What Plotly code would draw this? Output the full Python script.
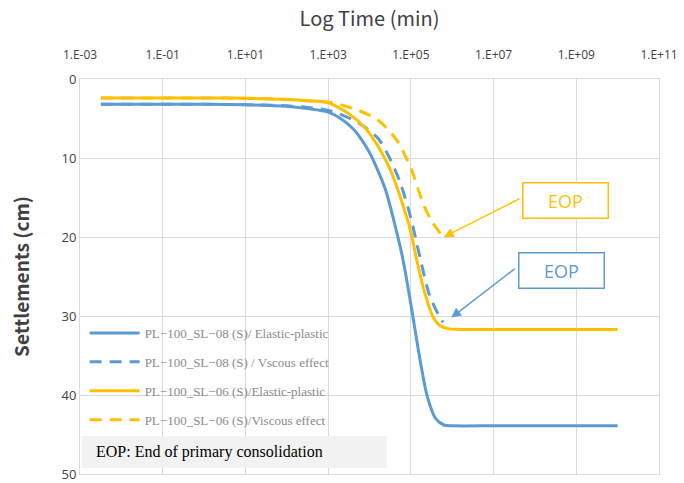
import math
import plotly.graph_objects as go

# Settlement vs. time curves (time in minutes, settlement in cm)
t_sl08_ep = [0.0032, 0.1, 1, 10, 100, 316, 1000, 2000, 4000, 6300, 1.0e4, 1.6e4, 2.5e4,
             4.0e4, 6.3e4, 1.0e5, 1.6e5, 2.5e5, 4.0e5, 6.3e5, 1.0e6, 1e7, 1e8, 1e9, 1e10]
s_sl08_ep = [3.2, 3.2, 3.2, 3.25, 3.45, 3.75, 4.2, 5.0, 6.3, 7.6, 9.3, 11.6, 14.2,
             18.2, 22.6, 28.5, 35.0, 40.2, 43.0, 43.8, 43.9, 43.9, 43.9, 43.9, 43.9]

t_sl08_ve = [0.0032, 0.1, 1, 10, 100, 316, 1260, 5600, 1.6e4, 3.2e4, 5.6e4, 1.0e5,
             1.6e5, 2.8e5, 4.5e5, 6.0e5]
s_sl08_ve = [3.2, 3.2, 3.2, 3.25, 3.4, 3.6, 4.1, 5.6, 7.5, 10.2, 13.2, 17.6,
             22.2, 27.3, 29.7, 30.8]

t_sl06_ep = [0.0032, 0.1, 1, 10, 100, 316, 1000, 3160, 7900, 1.6e4, 3.2e4, 5.6e4, 1.0e5,
             1.4e5, 2.2e5, 3.5e5, 5.0e5, 7.9e5, 1.6e6, 1e7, 1e8, 1e9, 1e10]
s_sl06_ep = [2.4, 2.4, 2.4, 2.45, 2.6, 2.75, 3.0, 4.4, 6.2, 8.5, 11.5, 15.0, 19.4,
             23.0, 27.2, 30.2, 31.2, 31.6, 31.7, 31.7, 31.7, 31.7, 31.7]

t_sl06_ve = [0.0032, 0.1, 1, 10, 100, 316, 1260, 5000, 1.6e4, 4.5e4, 1.0e5, 2.0e5,
             3.2e5, 5.6e5]
s_sl06_ve = [2.4, 2.4, 2.4, 2.45, 2.6, 2.75, 3.0, 3.9, 5.2, 7.7, 11.3, 15.8,
             18.0, 19.8]

series_names = [
    "PL\u2212100_SL\u221208 (S)/ Elastic-plastic",
    "PL\u2212100_SL\u221208 (S) / Vscous effect",
    "PL\u2212100_SL\u221206 (S)/Elastic-plastic",
    "PL\u2212100_SL\u221206 (S)/Viscous effect",
]

x_tickvals = [1e-3, 1e-1, 1e1, 1e3, 1e5, 1e7, 1e9, 1e11]
x_ticktext = ["1.E-03", "1.E-01", "1.E+01", "1.E+03", "1.E+05", "1.E+07", "1.E+09", "1.E+11"]
y_tickvals = [0, 10, 20, 30, 40, 50]

# End-of-primary-consolidation markers: (time, settlement) of arrow tip and label centre
eop_sl06_tip = (6.3e5, 20.0)
eop_sl06_label = (5.6e8, 15.4)
eop_sl08_tip = (9.5e5, 30.2)
eop_sl08_label = (4.4e8, 24.3)

BLUE = "#5B9BD5"
GOLD = "#FFC000"

fig = go.Figure()
traces = [
    (t_sl08_ep, s_sl08_ep, BLUE, "solid"),
    (t_sl08_ve, s_sl08_ve, BLUE, "12px,8px"),
    (t_sl06_ep, s_sl06_ep, GOLD, "solid"),
    (t_sl06_ve, s_sl06_ve, GOLD, "12px,8px"),
]
for i, (t, s, c, d) in enumerate(traces):
    fig.add_trace(go.Scatter(
        x=t, y=s, mode="lines", name=series_names[i], legendgroup=f"g{i}",
        line=dict(color=c, width=3, dash=d, shape="spline", smoothing=0.8),
    ))

fig.update_layout(
    width=684, height=483,
    margin=dict(l=80, r=25, t=79, b=9, autoexpand=False),
    paper_bgcolor="white", plot_bgcolor="white",
    font=dict(family="Lato", color="#404040"),
    showlegend=True,
    legend=dict(
        x=0.008, y=0.395, xanchor="left", yanchor="top",
        bgcolor="rgba(0,0,0,0)", borderwidth=0,
        traceorder="grouped", tracegroupgap=9, itemwidth=50,
        font=dict(family="Liberation Serif", size=13, color="#8a8a8a"),
    ),
    xaxis=dict(
        type="log", side="top", range=[-3, 11], automargin=False,
        tickvals=x_tickvals, ticktext=x_ticktext,
        tickfont=dict(family="Open Sans", size=12, color="#404040"),
        ticklabelstandoff=14,
        showgrid=True, gridcolor="#d9d9d9", gridwidth=1,
        showline=True, linecolor="#d9d9d9", mirror=True,
        zeroline=False, ticks="",
        title=dict(text="Log Time (min)", standoff=14,
                   font=dict(family="Noto Sans CJK JP", size=20, color="#404040")),
    ),
    yaxis=dict(
        range=[50, 0], tickvals=y_tickvals, automargin=False,
        tickfont=dict(family="Open Sans", size=13, color="#404040"),
        ticklabeloverflow="allow",
        showgrid=True, gridcolor="#d9d9d9", gridwidth=1,
        showline=True, linecolor="#d9d9d9", mirror=True,
        zeroline=False, ticks="",
        title=dict(text="<b>Settlements (cm)</b>", standoff=26,
                   font=dict(family="Noto Sans CJK JP", size=19, color="#404040")),
    ),
)

# EOP label boxes (log axis annotations take the exponent as x)
for lab, col in [(eop_sl06_label, GOLD), (eop_sl08_label, BLUE)]:
    fig.add_annotation(
        x=math.log10(lab[0]), y=lab[1], xref="x", yref="y", text="EOP", showarrow=False,
        xanchor="center", yanchor="middle",
        font=dict(family="Open Sans", size=18, color=col),
        bgcolor="white", bordercolor=col, borderwidth=1.5,
        width=82, height=32,
    )

# Arrows pointing at the end of primary consolidation
for tip, col, dx, dy in [(eop_sl06_tip, GOLD, 77, -39), (eop_sl08_tip, BLUE, 65, -50)]:
    fig.add_annotation(
        x=math.log10(tip[0]), y=tip[1], xref="x", yref="y", text="",
        showarrow=True, ax=dx, ay=dy, arrowhead=2, arrowsize=1.3, arrowwidth=1.5,
        arrowcolor=col,
    )

# Note box explaining the abbreviation
fig.add_shape(type="rect", xref="paper", yref="paper",
              x0=0.003, x1=0.530, y0=0.015, y1=0.096,
              fillcolor="#f2f2f2", line=dict(width=0), layer="above")
fig.add_annotation(
    x=0.024, y=0.055, xref="paper", yref="paper", xanchor="left", yanchor="middle",
    text="EOP: End of primary consolidation", showarrow=False,
    font=dict(family="Liberation Serif", size=16, color="#000000"),
)

fig.write_html("out.html")
